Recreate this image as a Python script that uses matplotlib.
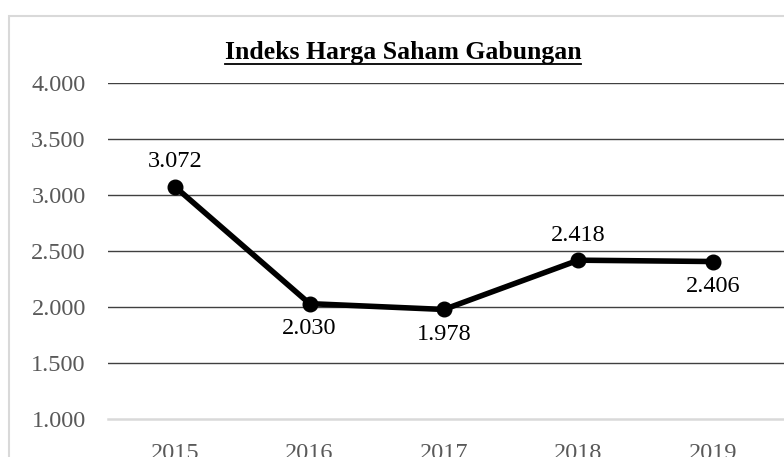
import matplotlib.pyplot as plt
from matplotlib.patches import Rectangle
from matplotlib.lines import Line2D
from matplotlib.ticker import FuncFormatter

years = ['2015', '2016', '2017', '2018', '2019']
ihsg = [3072, 2030, 1978, 2418, 2406]
label_side = ['above', 'below', 'below', 'above', 'below']
title = 'Indeks Harga Saham Gabungan'

plt.rcParams['font.family'] = ['Liberation Serif', 'DejaVu Serif']

W, H = 784, 457
fig = plt.figure(figsize=(W / 100, H / 100), dpi=100)

# chart area border (runs off the right and bottom edges)
fig.patches.append(Rectangle((9 / W, -0.1), 1.2, (H - 16) / H + 0.1,
                             transform=fig.transFigure, fill=False,
                             edgecolor='#d9d9d9', linewidth=1.5))

ax = fig.add_axes([108 / W, (H - 419) / H, (W - 108) / W, 336 / H])
x = list(range(len(years)))
ax.plot(x, ihsg, color='black', linewidth=4.0, marker='o', markersize=10.5,
        solid_capstyle='round', zorder=3)

for xi, v, side in zip(x, ihsg, label_side):
    dy = 18 if side == 'above' else -18
    ax.annotate(f'{v:,}'.replace(',', '.'), (xi, v), xytext=(0, dy),
                textcoords='offset points', ha='center', va='center',
                fontsize=17.5, color='black')

ax.set_xlim(-0.5, 4.53)
ax.set_ylim(1000, 4000)
ax.set_yticks(range(1000, 4001, 500))
ax.yaxis.set_major_formatter(FuncFormatter(lambda v, p: f'{int(v):,}'.replace(',', '.')))
ax.set_xticks(x)
ax.set_xticklabels(years)

for y in range(1500, 4001, 500):
    ax.axhline(y, color='#404040', linewidth=1.0, zorder=1)
ax.axhline(1000, color='#d9d9d9', linewidth=1.8, zorder=1, clip_on=False)

for s in ax.spines.values():
    s.set_visible(False)
ax.tick_params(axis='both', length=0, labelsize=17.5, labelcolor='#595959')
ax.tick_params(axis='y', pad=16)
ax.tick_params(axis='x', pad=17)

t = fig.text(403 / W, (H - 53) / H, title, ha='center', va='center',
             fontsize=18.5, fontweight='bold', color='black')
fig.canvas.draw()
bb = t.get_window_extent().transformed(fig.transFigure.inverted())
uy = (H - 64) / H
fig.lines.append(Line2D([bb.x0, bb.x1], [uy, uy], transform=fig.transFigure,
                        color='black', linewidth=1.3))

fig.savefig('out.png', dpi=100)
